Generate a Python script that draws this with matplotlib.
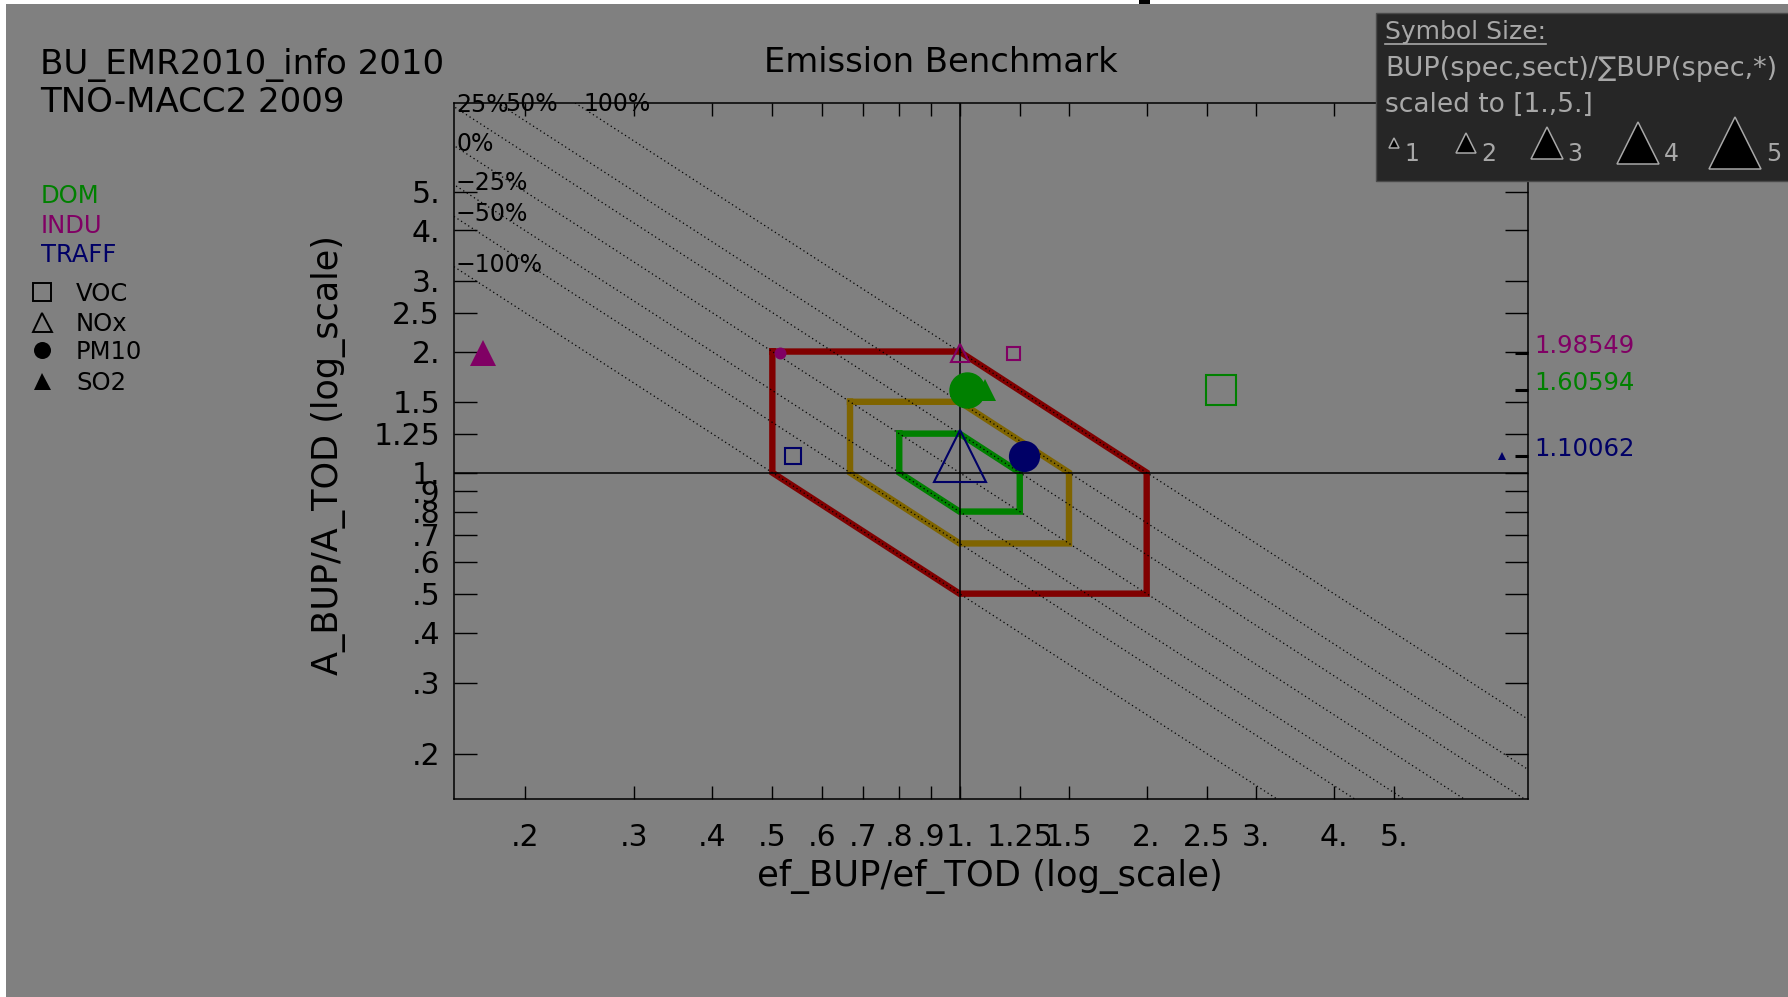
import matplotlib
matplotlib.use("Agg")
import matplotlib.pyplot as plt
import numpy as np
from matplotlib.patches import Rectangle
from matplotlib.lines import Line2D
from matplotlib.ticker import NullLocator

# Canvas size in pixels
W, H = 1788, 997

# Sectors, their A_BUP/A_TOD ratio (y) and colours
sectors = ["DOM", "INDU", "TRAFF"]
sector_ratio = [1.60594, 1.98549, 1.10062]
sector_colors = ["#008000", "#800064", "#000066"]

# Species and the ef_BUP/ef_TOD ratio (x) per sector
species = ["VOC", "NOx", "PM10", "SO2"]
ef_ratio = {
    "DOM":   [2.63, np.nan, 1.027, 1.099],
    "INDU":  [1.217, 1.0, 0.514, 0.171],
    "TRAFF": [0.539, 1.0, 1.268, 7.47],
}
# Symbol size, BUP(spec,sect)/sum BUP(spec,*) scaled to [1., 5.]
sym_size = {
    "DOM":   [2.8, np.nan, 3.5, 2.1],
    "INDU":  [1.25, 1.75, 1.15, 2.5],
    "TRAFF": [1.5, 5.0, 3.0, 0.8],
}

# Benchmark boxes (factor of deviation) and the iso-emission lines
box_factors = [2.0, 1.5, 1.25]
box_colors = ["#800000", "#7f6400", "#008000"]
iso_ratios = [0.5, 2 / 3, 0.8, 1.0, 1.25, 1.5, 2.0]
iso_labels = ["\u2212100%", "\u221250%", "\u221225%", "0%", "25%", "50%", "100%"]

# Axis ticks
xtick_vals = [.2, .3, .4, .5, .6, .7, .8, .9, 1, 1.25, 1.5, 2, 2.5, 3, 4, 5]
xtick_labels = [".2", ".3", ".4", ".5", ".6", ".7", ".8", ".9", "1.", "1.25",
                "1.5", "2.", "2.5", "3.", "4.", "5."]
ytick_vals = [.2, .3, .4, .5, .6, .7, .8, .9, 1, 1.25, 1.5, 2, 2.5, 3, 4, 5]
ytick_labels = [".2", ".3", ".4", ".5", ".6", ".7", ".8", ".9", "1.", "1.25",
                "1.5", "2.", "2.5", "3.", "4.", "5."]

marker_of = {"VOC": ("s", False), "NOx": ("^", False), "PM10": ("o", True), "SO2": ("^", True)}
PX_PER_SYM = 10.4
PT = 0.72  # points per pixel at dpi 100

plt.rcParams["font.family"] = ["DejaVu Sans"]


def fx(px):
    return px / W


def fy(py):
    return 1 - py / H


fig = plt.figure(figsize=(W / 100, H / 100), dpi=100)
fig.patch.set_facecolor("white")
fig.add_artist(Rectangle((fx(6), 0), 1, fy(4), transform=fig.transFigure,
                         facecolor="#808080", edgecolor="none", zorder=-10))
fig.add_artist(Rectangle((fx(1139), fy(4)), 11 / W, 4 / H, transform=fig.transFigure,
                         facecolor="black", edgecolor="none", zorder=-9))

ax = fig.add_axes([fx(454), fy(799), (1528 - 454) / W, (799 - 103) / H])
ax.set_facecolor("none")
ax.set_xscale("log")
ax.set_yscale("log")
ax.set_xlim(0.1538, 8.21)
ax.set_ylim(0.1543, 8.30)

# benchmark hexagons
for f, c in zip(box_factors, box_colors):
    hx = [1 / f, 1, f, f, 1, 1 / f, 1 / f]
    hy = [f, f, 1, 1 / f, 1 / f, 1, f]
    ax.plot(hx, hy, color=c, lw=4.6, solid_joinstyle="miter", zorder=2)

# iso-emission dotted lines
xx = np.array([0.05, 20.0])
for r in iso_ratios:
    ax.plot(xx, r / xx, color="black", lw=0.9, ls=(0, (1, 2.4)), zorder=3)

xlo, xhi = ax.get_xlim()
ylo, yhi = ax.get_ylim()
for r, lab in zip(iso_ratios, iso_labels):
    if r / xlo <= yhi:
        pos, off = (xlo, r / xlo), (2, -5)
    else:
        pos, off = (r / yhi, yhi), (8, -8)
    ax.annotate(lab, pos, xytext=off, textcoords="offset pixels", ha="left",
                va="baseline", fontsize=17, annotation_clip=False, zorder=4)

ax.axvline(1, color="black", lw=1.1, zorder=3)
ax.axhline(1, color="black", lw=1.1, zorder=3)

# emission markers
for sect, yv, col in zip(sectors, sector_ratio, sector_colors):
    for i, sp in enumerate(species):
        xv = ef_ratio[sect][i]
        if np.isnan(xv):
            continue
        m, filled = marker_of[sp]
        ms = sym_size[sect][i] * PX_PER_SYM * PT
        if filled:
            ax.plot(xv, yv, marker=m, ms=ms, color=col, mec=col, mew=0, ls="none", zorder=5)
        else:
            ax.plot(xv, yv, marker=m, ms=ms, mfc="none", mec=col, mew=1.5, ls="none", zorder=5)
    # marker on the right axis and value
    ax.plot([0.988, 1.0], [yv, yv], transform=ax.get_yaxis_transform(), color="black",
            lw=2.2, solid_capstyle="butt", clip_on=False, zorder=6)
    ax.text(1.006, yv, f"{yv:.5f}", transform=ax.get_yaxis_transform(), color=col,
            fontsize=17.5, ha="left", va="baseline")

ax.set_xticks(xtick_vals)
ax.set_xticklabels(xtick_labels)
ax.set_yticks(ytick_vals)
ax.set_yticklabels(ytick_labels)
ax.xaxis.set_minor_locator(NullLocator())
ax.yaxis.set_minor_locator(NullLocator())
ax.tick_params(axis="x", which="major", direction="in", length=9.4, width=1.0,
               top=True, labelsize=21.5, pad=17)
ax.tick_params(axis="y", which="major", direction="in", length=16.5, width=1.0,
               right=True, labelsize=21.5, pad=10)
for s in ax.spines.values():
    s.set_linewidth(1.1)

# axis labels and titles
fig.text(fx(990), fy(876), "ef_BUP/ef_TOD (log_scale)", ha="center", va="center", fontsize=25.5)
fig.text(fx(328), fy(455), "A_BUP/A_TOD (log_scale)", ha="center", va="center",
         rotation=90, fontsize=25.2)
fig.text(fx(941), fy(72), "Emission Benchmark", ha="center", va="baseline", fontsize=24.3)
fig.text(fx(40), fy(74), "BU_EMR2010_info 2010", ha="left", va="baseline", fontsize=24.5)
fig.text(fx(40), fy(112), "TNO-MACC2 2009", ha="left", va="baseline", fontsize=24.5)

# sector legend
sect_base = [203, 233, 262]
for name, col, yb in zip(sectors, sector_colors, sect_base):
    fig.text(fx(41), fy(yb), name, color=col, ha="left", va="baseline", fontsize=17.5)
spec_center = [292, 322, 350, 381]
spec_px = [18, 19, 17, 17]
for sp, yc, sz in zip(species, spec_center, spec_px):
    m, filled = marker_of[sp]
    fig.add_artist(Line2D([fx(42)], [fy(yc)], marker=m, ms=sz * PT,
                          mfc="black" if filled else "none", mec="black",
                          mew=0 if filled else 1.4, ls="none", transform=fig.transFigure))
    fig.text(fx(76), fy(yc + 9), sp, ha="left", va="baseline", fontsize=17.5)

# symbol size legend box
box_txt = "#a8a8a8"
fig.add_artist(Rectangle((fx(1376), fy(181)), 1, (181 - 13) / H, transform=fig.transFigure,
                         facecolor="#262626", edgecolor="#4a4a4a", lw=1, zorder=7))
t = fig.text(fx(1385), fy(39), "Symbol Size:", color=box_txt, ha="left", va="baseline",
             fontsize=18, zorder=8)
fig.text(fx(1385), fy(76), "BUP(spec,sect)/\u2211BUP(spec,*)", color=box_txt, ha="left",
         va="baseline", fontsize=19.5, zorder=8)
fig.text(fx(1385), fy(112), "scaled to [1.,5.]", color=box_txt, ha="left", va="baseline",
         fontsize=19, zorder=8)
fig.canvas.draw()
bb = t.get_window_extent()
fig.add_artist(Line2D([bb.x0 / W, bb.x1 / W], [fy(44), fy(44)], color=box_txt, lw=1.2,
                      transform=fig.transFigure, zorder=8))

leg_sizes = [1, 2, 3, 4, 5]
leg_x = [1394, 1466, 1547, 1638, 1735]
for s, xc in zip(leg_sizes, leg_x):
    px = s * PX_PER_SYM
    fig.add_artist(Line2D([fx(xc)], [fy(143)], marker="^", ms=px * PT, mfc="black",
                          mec=box_txt, mew=1.1, ls="none", transform=fig.transFigure, zorder=8))
    fig.text(fx(xc + px / 2 + 5), fy(161), str(s), color=box_txt, ha="left", va="baseline",
             fontsize=17, zorder=8)

fig.savefig("out.png", dpi=100)
